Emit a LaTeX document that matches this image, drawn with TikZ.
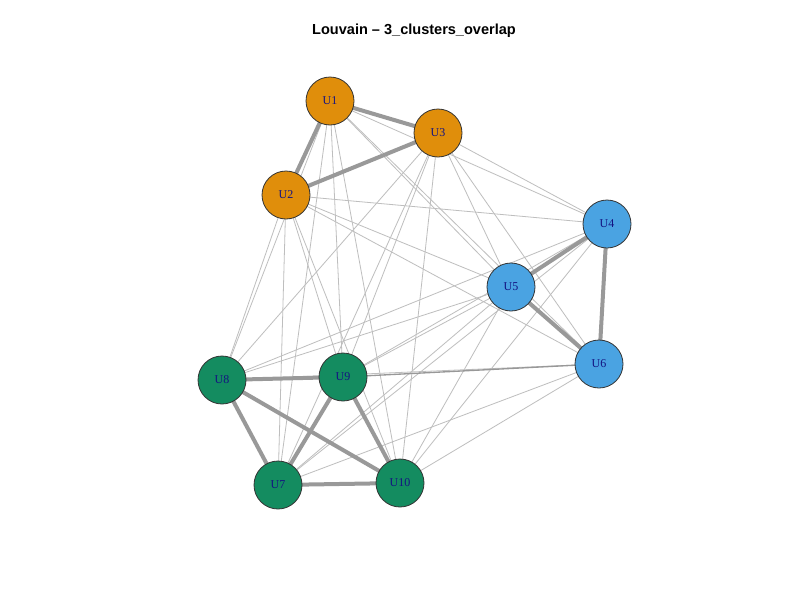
\documentclass[tikz,border=0pt]{standalone}
\usepackage{fontspec}
\setmainfont{Liberation Serif}
\newfontfamily\titlefont{Liberation Sans}
\definecolor{corange}{RGB}{224,142,11}
\definecolor{cblue}{RGB}{74,163,226}
\definecolor{cgreen}{RGB}{20,140,96}
\definecolor{thinedge}{RGB}{190,190,190}
\definecolor{thickedge}{RGB}{153,153,153}
\definecolor{lblcol}{RGB}{20,20,130}
\begin{document}
\begin{tikzpicture}[x=0.75pt,y=-0.75pt,
  vert/.style={circle,draw=black!80,line width=0.6pt,minimum size=36pt,inner sep=0pt,font=\fontsize{9}{10}\selectfont,text=lblcol},
  og/.style={vert,fill=corange},
  bl/.style={vert,fill=cblue},
  gr/.style={vert,fill=cgreen},
  thin/.style={draw=thinedge,line width=0.6pt},
  thick/.style={draw=thickedge,line width=3pt}]
\fill[white] (0,0) rectangle (800,600);
\useasboundingbox (0,0) rectangle (800,600);
\node[font=\titlefont\bfseries\fontsize{10.9}{12}\selectfont] (title) at (414,31) {Louvain – 3\_clusters\_overlap};
% coordinates for node positions
\coordinate (p1) at (330,101);
\coordinate (p2) at (286,195);
\coordinate (p3) at (438,133);
\coordinate (p4) at (607,224);
\coordinate (p5) at (511,287);
\coordinate (p6) at (599,364);
\coordinate (p7) at (278,485);
\coordinate (p8) at (222,380);
\coordinate (p9) at (343,377);
\coordinate (p10) at (400,483);
% thin edges (between clusters)
\foreach \a in {1,2,3} {
  \foreach \b in {4,5,6,7,8,9,10} { \draw[thin] (p\a) -- (p\b); }
}
\foreach \a in {4,5,6} {
  \foreach \b in {7,8,10} { \draw[thin] (p\a) -- (p\b); }
}
\draw[thin] (p4) -- (p9);
\draw[thin] (p5) -- (p9);
\draw[draw=thinedge!80!black,line width=1pt] (p6) -- (p9);
% thick edges (within clusters)
\draw[thick] (p1) -- (p2);
\draw[thick] (p1) -- (p3);
\draw[thick] (p2) -- (p3);
\draw[thick] (p4) -- (p5);
\draw[thick] (p4) -- (p6);
\draw[thick] (p5) -- (p6);
\draw[thick] (p8) -- (p9);
\draw[thick] (p8) -- (p7);
\draw[thick] (p8) -- (p10);
\draw[thick] (p9) -- (p7);
\draw[thick] (p9) -- (p10);
\draw[thick] (p7) -- (p10);
% nodes
\node[og] (U1) at (p1) {U1};
\node[og] (U2) at (p2) {U2};
\node[og] (U3) at (p3) {U3};
\node[bl] (U4) at (p4) {U4};
\node[bl] (U5) at (p5) {U5};
\node[bl] (U6) at (p6) {U6};
\node[gr] (U7) at (p7) {U7};
\node[gr] (U8) at (p8) {U8};
\node[gr] (U9) at (p9) {U9};
\node[gr] (U10) at (p10) {U10};
\end{tikzpicture}
\end{document}
